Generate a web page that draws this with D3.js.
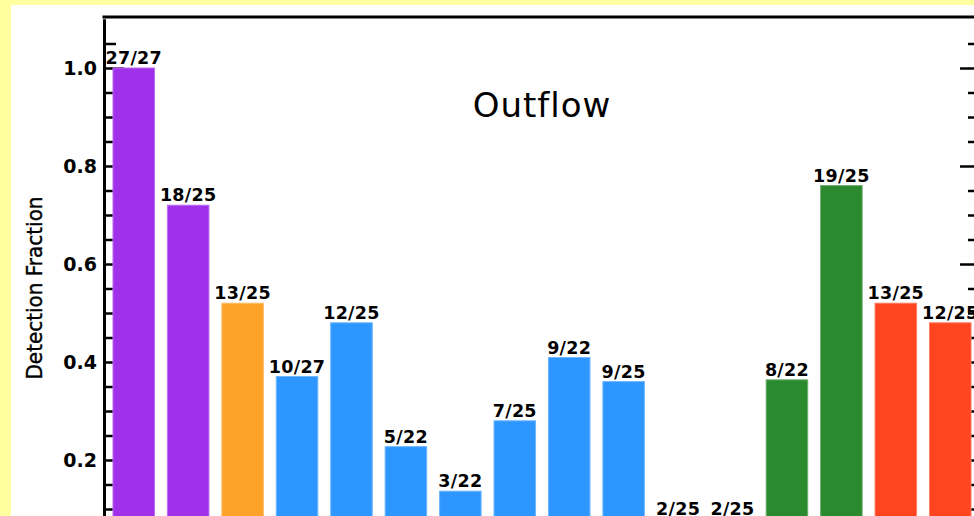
<!DOCTYPE html>
<html>
<head>
<meta charset="utf-8">
<script src="https://cdn.jsdelivr.net/npm/d3@7"></script>
<style>
  html, body { margin: 0; padding: 0; background: #ffffa0; }
  svg { display: block; }
</style>
</head>
<body>
<svg id="chart" width="974" height="516"></svg>
<script>
// ---- data ----
const labels = ["27/27","18/25","13/25","10/27","12/25","5/22","3/22","7/25","9/22","9/25","2/25","2/25","8/22","19/25","13/25","12/25"];
const numerators = [27,18,13,10,12,5,3,7,9,9,2,2,8,19,13,12];
const denominators = [27,25,25,27,25,22,22,25,22,25,25,25,22,25,25,25];
const groups = ["purple","purple","orange","blue","blue","blue","blue","blue","blue","blue","blue","blue","green","green","red","red"];
const majorTicks = [0.2,0.4,0.6,0.8,1.0];
const minorTicks = [0.05,0.1,0.15,0.25,0.3,0.35,0.45,0.5,0.55,0.65,0.7,0.75,0.85,0.9,0.95,1.05];
const title = "Outflow";
const yTitle = "Detection Fraction";

const values = numerators.map((n, i) => n / denominators[i]);

// ---- styles ----
const colorMap = { purple: "#a030ea", orange: "#ffa22a", blue: "#2e96ff", green: "#2c8a2e", red: "#ff4520" };

const svg = d3.select("#chart");
svg.append("rect").attr("x", 11).attr("y", 5).attr("width", 974).attr("height", 600).attr("fill", "#ffffff");

const pLeft = 104, pRight = 980, pTop = 18, pBottom = 558;

const x = d3.scaleBand()
  .domain(d3.range(values.length))
  .range([pLeft, pRight])
  .paddingInner(0.237)
  .paddingOuter(0.165);

const y = d3.scaleLinear().domain([0, 1.1]).range([pBottom, pTop + 1]);

// axes (drawn first so bars cover inner ticks)
const axisStroke = g => {
  g.selectAll("path").attr("stroke", "#000").attr("stroke-width", 3);
  g.selectAll("line").attr("stroke", "#000").attr("stroke-width", 2.5);
};

const leftMajor = svg.append("g").attr("transform", `translate(${pLeft},0)`)
  .call(d3.axisLeft(y).tickValues(majorTicks).tickSize(-20).tickSizeOuter(0).tickPadding(7).tickFormat(d3.format(".1f")));
axisStroke(leftMajor);
leftMajor.selectAll("text")
  .attr("font-family", "DejaVu Sans, sans-serif")
  .attr("font-weight", "bold")
  .attr("font-size", "19px")
  .attr("fill", "#000");

const leftMinor = svg.append("g").attr("transform", `translate(${pLeft},0)`)
  .call(d3.axisLeft(y).tickValues(minorTicks).tickSize(-12).tickSizeOuter(0).tickFormat(""));
axisStroke(leftMinor);

const rightMajor = svg.append("g").attr("transform", `translate(${pRight},0)`)
  .call(d3.axisRight(y).tickValues(majorTicks).tickSize(-20).tickSizeOuter(0).tickFormat(""));
axisStroke(rightMajor);
const rightMinor = svg.append("g").attr("transform", `translate(${pRight},0)`)
  .call(d3.axisRight(y).tickValues(minorTicks).tickSize(-12).tickSizeOuter(0).tickFormat(""));
axisStroke(rightMinor);

// top frame
svg.append("line")
  .attr("x1", pLeft - 1.5).attr("x2", pRight + 1.5)
  .attr("y1", pTop - 1).attr("y2", pTop - 1)
  .attr("stroke", "#000").attr("stroke-width", 3);

// bars
svg.append("g").selectAll("rect")
  .data(values)
  .join("rect")
  .attr("x", (d, i) => x(i))
  .attr("y", d => y(d))
  .attr("width", x.bandwidth())
  .attr("height", d => y(0) - y(d))
  .attr("fill", (d, i) => colorMap[groups[i]])
  .attr("stroke", (d, i) => d3.interpolateRgb(colorMap[groups[i]], "#ffffff")(0.3))
  .attr("stroke-width", 1);

// bar labels
svg.append("g").selectAll("text")
  .data(values)
  .join("text")
  .attr("x", (d, i) => x(i) + x.bandwidth() / 2)
  .attr("y", d => y(d) - 4)
  .attr("text-anchor", "middle")
  .attr("font-family", "DejaVu Sans, sans-serif")
  .attr("font-weight", "bold")
  .attr("font-size", "17.5px")
  .attr("letter-spacing", "0.3px")
  .attr("fill", "#000")
  .text((d, i) => labels[i]);

// title
svg.append("text")
  .attr("x", (pLeft + pRight) / 2)
  .attr("y", 117)
  .attr("text-anchor", "middle")
  .attr("font-family", "DejaVu Sans, sans-serif")
  .attr("font-size", "34px")
  .attr("letter-spacing", "1px")
  .attr("fill", "#000")
  .text(title);

// y title
svg.append("text")
  .attr("transform", `translate(42,288) rotate(-90)`)
  .attr("text-anchor", "middle")
  .attr("font-family", "DejaVu Sans, sans-serif")
  .attr("font-size", "22px")
  .attr("stroke", "#000")
  .attr("stroke-width", 0.4)
  .attr("textLength", 183)
  .attr("lengthAdjust", "spacingAndGlyphs")
  .attr("fill", "#000")
  .text(yTitle);
</script>
</body>
</html>
